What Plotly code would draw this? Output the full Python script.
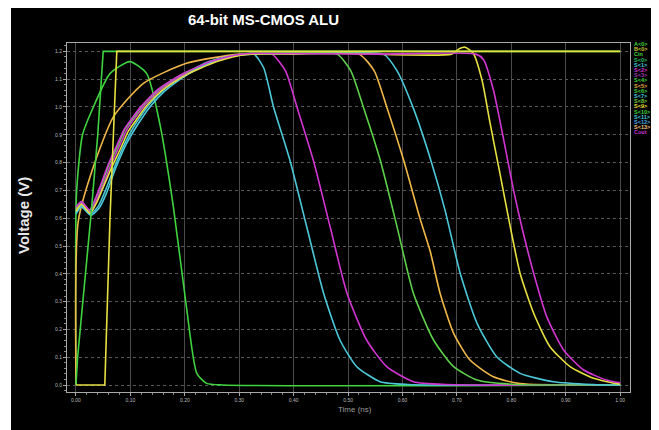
import plotly.graph_objects as go

# ---------------- data ----------------
title_text = "64-bit MS-CMOS ALU"
x_title = "Time (ns)"
y_title = "Voltage (V)"

x_tick_vals = [0.0, 0.1, 0.2, 0.3, 0.4, 0.5, 0.6, 0.7, 0.8, 0.9, 1.0]
x_tick_text = ["0.00", "0.10", "0.20", "0.30", "0.40", "0.50", "0.60", "0.70", "0.80", "0.90", "1.00"]
y_tick_vals = [0.0, 0.1, 0.2, 0.3, 0.4, 0.5, 0.6, 0.7, 0.8, 0.9, 1.0, 1.1, 1.2]
y_tick_text = ["0.0", "0.1", "0.2", "0.3", "0.4", "0.5", "0.6", "0.7", "0.8", "0.9", "1.0", "1.1", "1.2"]

# input ramp (green)
ramp_x = [0.0, 0.003, 0.028, 0.04, 0.05, 1.0]
ramp_y = [0.0, 0.10, 0.62, 0.90, 1.20, 1.20]

# clock-like step (yellow)
step_x = [0.0, 0.053, 0.0625, 0.075, 1.0]
step_y = [0.0, 0.0, 0.60, 1.20, 1.20]

# early bump output (green)
bump_x = [0.0, 0.001, 0.012, 0.032, 0.0625, 0.099, 0.13, 0.154, 0.179, 0.203, 0.222, 0.24, 0.27, 1.0]
bump_y = [0.0, 0.69, 0.90, 1.00, 1.12, 1.163, 1.12, 0.94, 0.64, 0.28, 0.042, 0.006, 0.0, 0.0]

# fast-rising output (orange) that later falls
orange_x = [0.0, 0.004, 0.032, 0.069, 0.124, 0.203, 0.30, 0.40, 0.52, 0.548, 0.571, 0.602, 0.632,
            0.651, 0.669, 0.694, 0.724, 0.767, 0.816, 1.0]
orange_y = [0.0, 0.587, 0.785, 0.965, 1.085, 1.157, 1.19, 1.19, 1.19, 1.13, 1.0, 0.809, 0.60,
            0.48, 0.33, 0.186, 0.09, 0.03, 0.005, 0.0]

# cluster outputs: slow rise then falls at different times
cyan1_x = [0.0, 0.01, 0.026, 0.04, 0.052, 0.07, 0.09, 0.105, 0.12, 0.135, 0.16, 0.19, 0.215, 0.24, 0.265,
           0.29, 0.326, 0.345, 0.363, 0.393, 0.424, 0.455, 0.485, 0.516, 0.559, 0.61, 1.0]
cyan1_y = [0.62, 0.645, 0.615, 0.64, 0.69, 0.78, 0.87, 0.925, 0.97, 1.01, 1.06, 1.105, 1.135, 1.16, 1.175,
           1.185, 1.192, 1.14, 1.0, 0.809, 0.569, 0.33, 0.162, 0.066, 0.012, 0.002, 0.0]

magenta1_x = [0.0, 0.01, 0.026, 0.038, 0.05, 0.0625, 0.08, 0.093, 0.11, 0.124, 0.14, 0.154, 0.18, 0.203,
              0.23, 0.252, 0.28, 0.30, 0.33, 0.36, 0.385, 0.406, 0.436, 0.467, 0.498, 0.534, 0.571, 0.62,
              0.68, 1.0]
magenta1_y = [0.63, 0.655, 0.622, 0.665, 0.72, 0.785, 0.86, 0.917, 0.965, 1.001, 1.035, 1.061, 1.095, 1.121,
              1.145, 1.163, 1.178, 1.187, 1.192, 1.19, 1.13, 1.0, 0.809, 0.569, 0.33, 0.162, 0.066, 0.012,
              0.002, 0.0]

green2_x = [0.0, 0.01, 0.025, 0.036, 0.048, 0.06, 0.078, 0.09, 0.108, 0.122, 0.138, 0.152, 0.178, 0.20,
            0.228, 0.25, 0.28, 0.30, 0.33, 0.40, 0.48, 0.505, 0.528, 0.559, 0.59, 0.62, 0.657, 0.694, 0.737,
            0.80, 1.0]
green2_y = [0.635, 0.66, 0.627, 0.67, 0.725, 0.79, 0.865, 0.92, 0.968, 1.004, 1.037, 1.063, 1.097, 1.122,
            1.146, 1.164, 1.179, 1.188, 1.193, 1.195, 1.19, 1.13, 1.0, 0.809, 0.569, 0.33, 0.162, 0.066, 0.018,
            0.003, 0.0]

cyan2_x = [0.0, 0.01, 0.027, 0.042, 0.055, 0.072, 0.092, 0.108, 0.123, 0.138, 0.162, 0.192, 0.218, 0.243,
           0.268, 0.293, 0.33, 0.45, 0.565, 0.59, 0.62, 0.651, 0.678, 0.706, 0.737, 0.773, 0.816, 0.877,
           0.95, 1.0]
cyan2_y = [0.615, 0.64, 0.61, 0.635, 0.685, 0.775, 0.865, 0.92, 0.965, 1.005, 1.055, 1.10, 1.132, 1.157,
           1.173, 1.184, 1.191, 1.192, 1.19, 1.13, 0.995, 0.815, 0.63, 0.402, 0.222, 0.102, 0.042, 0.012,
           0.002, 0.0]

yellow3_x = [0.0, 0.01, 0.026, 0.039, 0.051, 0.065, 0.083, 0.096, 0.113, 0.127, 0.143, 0.157, 0.183, 0.206,
             0.233, 0.255, 0.283, 0.303, 0.33, 0.50, 0.69, 0.705, 0.715, 0.73, 0.746, 0.761, 0.779, 0.798,
             0.816, 0.841, 0.871, 0.908, 0.951, 0.994, 1.0]
yellow3_y = [0.625, 0.65, 0.618, 0.66, 0.715, 0.78, 0.855, 0.912, 0.96, 0.998, 1.032, 1.058, 1.093, 1.119,
             1.143, 1.161, 1.177, 1.186, 1.191, 1.192, 1.19, 1.21, 1.215, 1.193, 1.097, 0.941, 0.761, 0.569,
             0.402, 0.258, 0.138, 0.066, 0.024, 0.005, 0.004]

magenta2_x = [0.0, 0.01, 0.025, 0.036, 0.047, 0.059, 0.076, 0.089, 0.106, 0.12, 0.136, 0.15, 0.176, 0.199,
              0.226, 0.248, 0.276, 0.296, 0.33, 0.55, 0.735, 0.749, 0.767, 0.786, 0.804, 0.822, 0.841, 0.865,
              0.896, 0.933, 0.975, 1.0]
magenta2_y = [0.64, 0.66, 0.63, 0.672, 0.728, 0.792, 0.866, 0.921, 0.968, 1.003, 1.036, 1.062, 1.096, 1.122,
              1.146, 1.164, 1.179, 1.188, 1.193, 1.19, 1.19, 1.17, 1.061, 0.881, 0.701, 0.546, 0.402, 0.246,
              0.126, 0.054, 0.018, 0.008]

# legend text (illegible in the reference; short signal names) and colours
legend_names = ["A<0>", "B<0>", "Cin", "S<0>", "S<1>", "S<2>", "S<3>", "S<4>", "S<5>",
                "S<6>", "S<7>", "S<8>", "S<9>", "S<10>", "S<11>", "S<12>", "S<13>", "Cout"]
legend_colors = ["#3fd43f", "#c8c838", "#3fd43f", "#2fc060", "#49c7dc", "#d238d2", "#9a3aa8",
                 "#3fd43f", "#e0b040", "#3fd43f", "#49c7dc", "#7ad040", "#e8e040", "#3fd43f",
                 "#49c7dc", "#50a8e0", "#f0c080", "#c838d0"]

# ---------------- figure ----------------
GREEN = "#3fd43f"
YELLOW = "#e6e040"
ORANGE = "#f0b848"
CYAN = "#4cc8d8"
MAGENTA = "#d236d2"
LGREEN = "#5ed04a"

fig = go.Figure()

def add(x, y, color, name, shape="spline", width=1.6):
    fig.add_trace(go.Scatter(x=x, y=y, mode="lines", name=name, showlegend=False,
                             line=dict(color=color, width=width, shape=shape, smoothing=0.6)))

add(bump_x, bump_y, GREEN, "bump")
add(orange_x, orange_y, ORANGE, "orange")
add(cyan1_x, cyan1_y, CYAN, "cyan1")
add(magenta1_x, magenta1_y, MAGENTA, "magenta1")
add(green2_x, green2_y, LGREEN, "green2")
add(cyan2_x, cyan2_y, CYAN, "cyan2")
add(yellow3_x, yellow3_y, YELLOW, "yellow3")
add(magenta2_x, magenta2_y, MAGENTA, "magenta2")
add(ramp_x, ramp_y, GREEN, "ramp", shape="linear")
add(step_x, step_y, YELLOW, "step", shape="linear")

# page body margin offsets the figure by 8 px; work in screen pixels and convert
OFF = 8
W, H = 659, 430
SL, SR, ST, SB = 67, 630, 43, 392          # plot-area edges in screen pixels
L, T = SL - OFF, ST - OFF
R, B = W - (SR - OFF), H - (SB - OFF)
pw, ph = W - L - R, H - T - B

def px2paper_x(p):
    return (p - SL) / pw

def px2paper_y(q):
    return (SB - q) / ph

shapes = [
    # thin white strip at the left edge of the original screenshot
    dict(type="rect", xref="paper", yref="paper", layer="below",
         x0=px2paper_x(0), x1=px2paper_x(11), y0=px2paper_y(440), y1=px2paper_y(0),
         fillcolor="white", line=dict(width=0)),
]

annotations = [
    dict(text="<b>" + title_text + "</b>", x=px2paper_x(263), y=px2paper_y(20), xref="paper", yref="paper",
         xanchor="center", yanchor="middle", showarrow=False,
         font=dict(family="Liberation Sans", size=15, color="white")),
    dict(text="<b>" + y_title + "</b>", x=px2paper_x(23), y=px2paper_y(215), xref="paper", yref="paper",
         xanchor="center", yanchor="middle", showarrow=False, textangle=-90,
         font=dict(family="Liberation Sans", size=15, color="#e8e8e8")),
    dict(text=x_title, x=px2paper_x(355), y=px2paper_y(410), xref="paper", yref="paper",
         xanchor="center", yanchor="middle", showarrow=False,
         font=dict(family="Liberation Sans", size=8, color="#9a9a9a")),
]

for i, (nm, col) in enumerate(zip(legend_names, legend_colors)):
    annotations.append(dict(text="<b>" + nm + "</b>", x=px2paper_x(632), y=px2paper_y(44 + i * 5.2),
                            xref="paper", yref="paper", xanchor="left", yanchor="middle",
                            showarrow=False, font=dict(family="Liberation Sans", size=5.5, color=col)))

fig.update_layout(
    width=W, height=H,
    margin=dict(l=L, r=R, t=T, b=B, pad=0),
    paper_bgcolor="black", plot_bgcolor="black",
    shapes=shapes, annotations=annotations,
    xaxis=dict(range=[-0.0165, 1.018], tickvals=x_tick_vals, ticktext=x_tick_text,
               tickfont=dict(size=5, color="#bbbbbb", family="Liberation Sans"),
               showgrid=True, gridcolor="#4a4a4a", gridwidth=1,
               showline=True, linecolor="#aaaaaa", linewidth=1, mirror=True,
               ticks="outside", ticklen=3, tickcolor="#aaaaaa",
               minor=dict(dtick=0.02, ticks="outside", ticklen=2, tickcolor="#888888", showgrid=False),
               zeroline=False),
    yaxis=dict(range=[-0.025, 1.23], tickvals=y_tick_vals, ticktext=y_tick_text,
               tickfont=dict(size=5, color="#bbbbbb", family="Liberation Sans"),
               showgrid=True, gridcolor="#5a5a5a", gridwidth=1, griddash="dot",
               showline=True, linecolor="#aaaaaa", linewidth=1, mirror=True,
               ticks="outside", ticklen=3, tickcolor="#aaaaaa",
               minor=dict(dtick=0.02, ticks="outside", ticklen=2, tickcolor="#888888", showgrid=False),
               zeroline=False),
)

fig.write_html("out.html")
